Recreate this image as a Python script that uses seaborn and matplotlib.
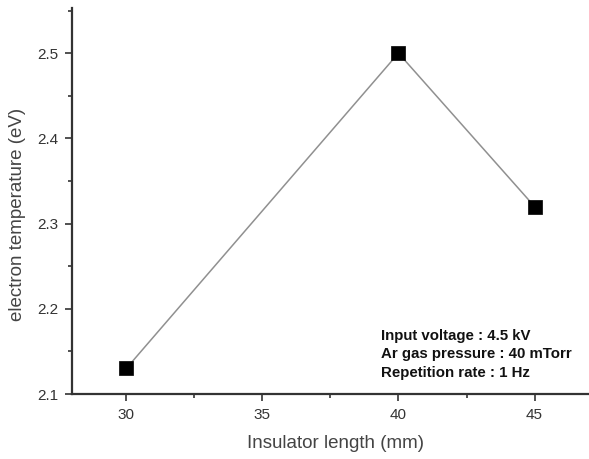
import matplotlib
matplotlib.use("Agg")
import matplotlib.pyplot as plt
import seaborn as sns
import pandas as pd
from matplotlib.ticker import MultipleLocator

insulator_length = [30, 40, 45]
electron_temp = [2.13, 2.50, 2.32]
xticks = [30, 35, 40, 45]
yticks = [2.1, 2.2, 2.3, 2.4, 2.5]
note_lines = ["Input voltage : 4.5 kV", "Ar gas pressure : 40 mTorr", "Repetition rate : 1 Hz"]

sns.set_theme(style="ticks")
plt.rcParams['font.family'] = ['Liberation Sans', 'DejaVu Sans']

df = pd.DataFrame({"x": insulator_length, "y": electron_temp})

fig = plt.figure(figsize=(5.89, 4.59), dpi=100)
ax = fig.add_axes([0.122, 0.1416, 0.878, 0.841])

sns.lineplot(data=df, x="x", y="y", ax=ax, color="#909090", linewidth=1.1, zorder=1)
sns.scatterplot(data=df, x="x", y="y", ax=ax, marker="s", s=100, color="black",
                edgecolor="black", linewidth=0.5, zorder=3)

ax.set_xlim(28, 47)
ax.set_ylim(2.1, 2.553)
ax.set_xticks(xticks)
ax.set_yticks(yticks)
ax.set_xticklabels([str(v) for v in xticks])
ax.set_yticklabels([f"{v:.1f}" for v in yticks])
ax.xaxis.set_minor_locator(MultipleLocator(2.5))
ax.yaxis.set_minor_locator(MultipleLocator(0.05))

for s in ["top", "right"]:
    ax.spines[s].set_visible(False)
for s in ["left", "bottom"]:
    ax.spines[s].set_linewidth(1.6)
    ax.spines[s].set_color("#333333")

ax.tick_params(axis="both", which="major", direction="out", length=5, width=1.2,
               color="#333333", labelsize=11, labelcolor="#333333", pad=5)
ax.tick_params(axis="both", which="minor", direction="out", length=3, width=1.2,
               color="#333333")

ax.set_xlabel("Insulator length (mm)", fontsize=13.5, color="#444444")
ax.set_ylabel("electron temperature (eV)", fontsize=13.5, color="#444444")
ax.xaxis.set_label_coords(0.51, -0.105)
ax.yaxis.set_label_coords(-0.088, 0.466)

ax.text(39.35, 2.1765, "\n".join(note_lines), fontsize=10.8, fontweight="bold",
        color="#111111", va="top", ha="left", linespacing=1.42)

fig.savefig("out.png", dpi=100, facecolor="white")
